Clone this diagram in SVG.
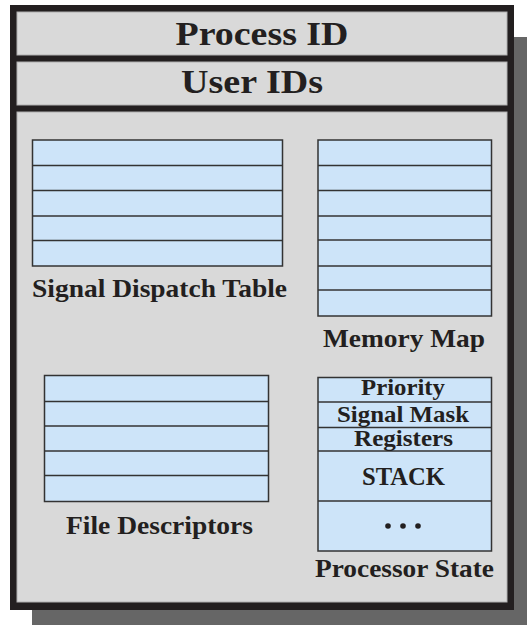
<svg xmlns="http://www.w3.org/2000/svg" width="527" height="625" viewBox="0 0 527 625">
<style>
.t{font-family:"Liberation Serif","Times New Roman",serif;font-weight:bold;fill:#231f20;text-anchor:middle}
.tbl{fill:#cde4f9;stroke:#333;stroke-width:1.5}
.ln{stroke:#333;stroke-width:1.5}
.cell{fill:#d9d9d9;stroke:#b0b0b0;stroke-width:1}
</style>
<rect width="527" height="625" fill="#ffffff"/>
<g id="shadow" fill="#666666">
<rect x="514" y="37" width="13" height="588"/>
<rect x="32" y="610" width="495" height="15"/>
</g>
<g id="frame">
<rect x="10" y="5" width="504" height="605" fill="#231f20"/>
<rect class="cell" x="17" y="12" width="490" height="43"/>
<rect class="cell" x="17" y="62" width="490" height="43"/>
<rect class="cell" x="17" y="112" width="490" height="490"/>
</g>
<g id="process-id"><text class="t" x="262" y="45" font-size="34" textLength="173" lengthAdjust="spacingAndGlyphs">Process ID</text></g>
<g id="user-ids"><text class="t" x="252" y="93" font-size="34" textLength="142" lengthAdjust="spacingAndGlyphs">User IDs</text></g>
<g id="signal-dispatch-table">
<rect class="tbl" x="32.5" y="140" width="250" height="126"/>
<line class="ln" x1="32.5" y1="165.5" x2="282.5" y2="165.5"/>
<line class="ln" x1="32.5" y1="190.5" x2="282.5" y2="190.5"/>
<line class="ln" x1="32.5" y1="216" x2="282.5" y2="216"/>
<line class="ln" x1="32.5" y1="240.5" x2="282.5" y2="240.5"/>
<text class="t" x="159.5" y="297" font-size="26" textLength="255" lengthAdjust="spacingAndGlyphs">Signal Dispatch Table</text>
</g>
<g id="memory-map">
<rect class="tbl" x="318" y="140" width="173.5" height="176"/>
<line class="ln" x1="318" y1="165.5" x2="491.5" y2="165.5"/>
<line class="ln" x1="318" y1="190.5" x2="491.5" y2="190.5"/>
<line class="ln" x1="318" y1="216" x2="491.5" y2="216"/>
<line class="ln" x1="318" y1="240" x2="491.5" y2="240"/>
<line class="ln" x1="318" y1="266" x2="491.5" y2="266"/>
<line class="ln" x1="318" y1="290" x2="491.5" y2="290"/>
<text class="t" x="404" y="347" font-size="26" textLength="162" lengthAdjust="spacingAndGlyphs">Memory Map</text>
</g>
<g id="file-descriptors">
<rect class="tbl" x="44.5" y="375.5" width="224" height="126"/>
<line class="ln" x1="44.5" y1="401.5" x2="268.5" y2="401.5"/>
<line class="ln" x1="44.5" y1="426" x2="268.5" y2="426"/>
<line class="ln" x1="44.5" y1="451" x2="268.5" y2="451"/>
<line class="ln" x1="44.5" y1="475.5" x2="268.5" y2="475.5"/>
<text class="t" x="159.5" y="534" font-size="26" textLength="187" lengthAdjust="spacingAndGlyphs">File Descriptors</text>
</g>
<g id="processor-state">
<rect class="tbl" x="318" y="377.5" width="173.5" height="173.5"/>
<line class="ln" x1="318" y1="402" x2="491.5" y2="402"/>
<line class="ln" x1="318" y1="427.5" x2="491.5" y2="427.5"/>
<line class="ln" x1="318" y1="451" x2="491.5" y2="451"/>
<line class="ln" x1="318" y1="501" x2="491.5" y2="501"/>
<text class="t" x="403" y="395" font-size="23" textLength="84" lengthAdjust="spacingAndGlyphs">Priority</text>
<text class="t" x="403" y="421.5" font-size="23" textLength="132" lengthAdjust="spacingAndGlyphs">Signal Mask</text>
<text class="t" x="403.5" y="446" font-size="23" textLength="99" lengthAdjust="spacingAndGlyphs">Registers</text>
<text class="t" x="403.5" y="485" font-size="25" textLength="83" lengthAdjust="spacingAndGlyphs">STACK</text>
<g fill="#231f20"><circle cx="388" cy="526" r="2.8"/><circle cx="403" cy="526" r="2.8"/><circle cx="418" cy="526" r="2.8"/></g>
<text class="t" x="404.5" y="577" font-size="26" textLength="179" lengthAdjust="spacingAndGlyphs">Processor State</text>
</g>
</svg>
